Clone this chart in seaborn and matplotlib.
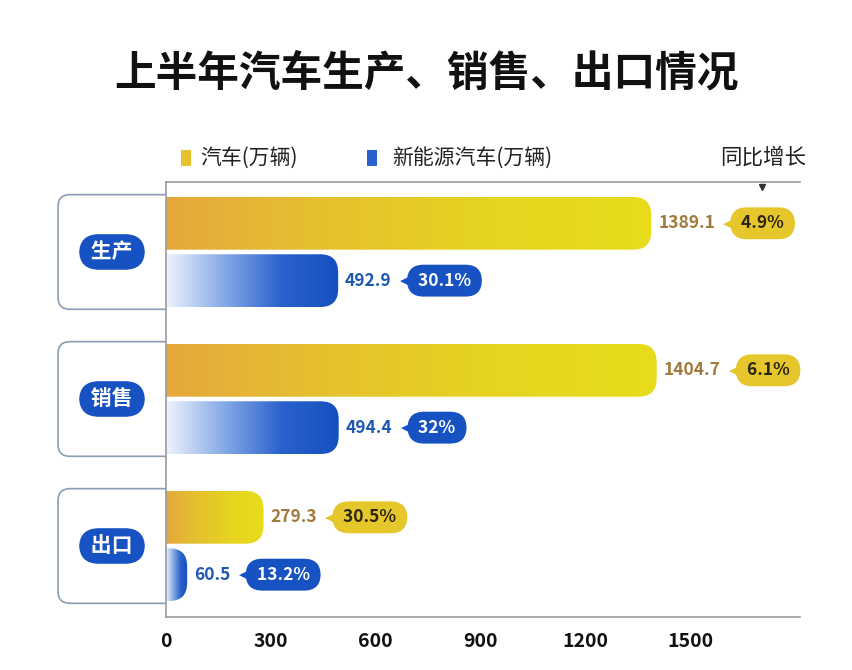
import numpy as np
import pandas as pd
import matplotlib
matplotlib.use("Agg")
import matplotlib.pyplot as plt
import seaborn as sns
from matplotlib.colors import LinearSegmentedColormap
from matplotlib.patches import FancyBboxPatch, Rectangle, PathPatch
from matplotlib.path import Path

# ----------------------------
# Data
# ----------------------------
title = "上半年汽车生产、销售、出口情况"
categories = ["生产", "销售", "出口"]
series = ["汽车(万辆)", "新能源汽车(万辆)"]
car_values = [1389.1, 1404.7, 279.3]
nev_values = [492.9, 494.4, 60.5]
car_growth = ["4.9%", "6.1%", "30.5%"]
nev_growth = ["30.1%", "32%", "13.2%"]
x_ticks = [0, 300, 600, 900, 1200, 1500]

df = pd.DataFrame({
    "类别": categories * 2,
    "数量": car_values + nev_values,
    "类型": [series[0]] * len(categories) + [series[1]] * len(categories),
})

# ----------------------------
# General Settings
# ----------------------------
sns.set_style("white")
plt.rcParams["font.family"] = ["Noto Sans CJK SC", "DejaVu Sans"]

W, H = 852, 670
fig = plt.figure(figsize=(W / 100, H / 100), dpi=100)
fig.patch.set_facecolor("white")

# overlay in pixel units for decorations
ov = fig.add_axes([0, 0, 1, 1], zorder=-1)
ov.set_xlim(0, W)
ov.set_ylim(H, 0)
ov.axis("off")

ax = fig.add_axes([166 / W, 1 - 617 / H, 634 / W, 435 / H])
ax.patch.set_alpha(0)

sns.barplot(data=df, y="类别", x="数量", hue="类型", orient="h",
            width=0.78, gap=0.08, palette=["#e6c62c", "#1a55c3"],
            legend=False, ax=ax)

XMAX = 1815
YLIM = (2.483, -0.476)
ax.set_xlim(0, XMAX)
ax.set_ylim(*YLIM)

ux = XMAX / 634
uy = (YLIM[0] - YLIM[1]) / 435

# ----------------------------
# Gradient bars with rounded right end
# ----------------------------
yellow_cmap = LinearSegmentedColormap.from_list(
    "yel", ["#e6a83c", "#e5c22e", "#e6d41f", "#e8dc1c"])
blue_cmap = LinearSegmentedColormap.from_list(
    "blu", ["#eef3fc", "#86aae6", "#2a62cc", "#1450c0"])
grad = np.linspace(0, 1, 256).reshape(1, -1)
r_px = 18

for cont, cmap in zip(ax.containers, [yellow_cmap, blue_cmap]):
    for bar in cont:
        x0, y0 = bar.get_x(), bar.get_y()
        w, h = bar.get_width(), bar.get_height()
        bar.set_visible(False)
        clip = FancyBboxPatch(
            (x0 - 2 * r_px * ux, y0), w + 2 * r_px * ux, h,
            boxstyle=f"round,pad=0,rounding_size={r_px * ux}",
            mutation_aspect=uy / ux, transform=ax.transData,
            fc="none", ec="none")
        ax.add_patch(clip)
        im = ax.imshow(grad, extent=[x0, x0 + w, y0 + h, y0], aspect="auto",
                       cmap=cmap, zorder=2, interpolation="bilinear")
        im.set_clip_path(clip)

ax.set_xlim(0, XMAX)
ax.set_ylim(*YLIM)

# ----------------------------
# Value labels + growth pills
# ----------------------------
styles = [
    (car_values, car_growth, "#a07a3c", "#e5c72c", "#2b2410"),
    (nev_values, nev_growth, "#2057b5", "#1752c2", "white"),
]
for cont, (vals, growth, vcol, pfill, ptext) in zip(ax.containers, styles):
    for bar, v, g in zip(cont, vals, growth):
        yc = bar.get_y() + bar.get_height() / 2
        lab = ax.annotate(f"{v}", xy=(bar.get_width(), yc), xytext=(5, 0),
                          textcoords="offset points", ha="left", va="center",
                          fontsize=12.5, fontweight="bold", color=vcol,
                          annotation_clip=False)
        ax.annotate("◀", xy=(1, 0.5), xycoords=lab, xytext=(6, 0),
                    textcoords="offset points", ha="left", va="center",
                    fontsize=8, color=pfill, family="DejaVu Sans")
        ax.annotate(f" {g} ", xy=(1, 0.5), xycoords=lab, xytext=(16, 0),
                    textcoords="offset points", ha="left", va="center",
                    fontsize=12.5, fontweight="bold", color=ptext,
                    bbox=dict(boxstyle="round,pad=0.4,rounding_size=0.95",
                              fc=pfill, ec="none"))

# ----------------------------
# Axes styling
# ----------------------------
for side in ["top", "left", "bottom"]:
    ax.spines[side].set_color("#9a9a9a")
    ax.spines[side].set_linewidth(1.2)
ax.spines["right"].set_visible(False)

ax.set_xticks(x_ticks)
ax.set_xticklabels([str(t) for t in x_ticks])
ax.tick_params(axis="x", direction="in", length=5, width=1, color="#9a9a9a",
               pad=11, labelsize=14, labelcolor="#111111", top=False)
for lbl in ax.get_xticklabels():
    lbl.set_fontweight("bold")
ax.set_yticks(range(len(categories)))
ax.tick_params(axis="y", direction="out", length=6, width=1, color="#9a9a9a",
               labelleft=False)
ax.set_xlabel("")
ax.set_ylabel("")


def to_px(y):
    return H - ax.transData.transform((0, y))[1]


# ----------------------------
# Category boxes and labels
# ----------------------------
half = 0.39
for i, cat in enumerate(categories):
    top, bot = to_px(i - half), to_px(i + half)
    x0, x1, r = 58, 166, 12
    verts = [(x1, top), (x0 + r, top), (x0, top), (x0, top + r),
             (x0, bot - r), (x0, bot), (x0 + r, bot), (x1, bot)]
    codes = [Path.MOVETO, Path.LINETO, Path.CURVE3, Path.CURVE3,
             Path.LINETO, Path.CURVE3, Path.CURVE3, Path.LINETO]
    ov.add_patch(PathPatch(Path(verts, codes), fc="none", ec="#8a9db2", lw=1.2))
    ov.text(112, to_px(i), f" {cat} ", ha="center", va="center",
            fontsize=15, fontweight="bold", color="white",
            bbox=dict(boxstyle="round,pad=0.35,rounding_size=0.95",
                      fc="#1752c2", ec="none"))

# ----------------------------
# Title and legend
# ----------------------------
ov.text(426, 73, title, ha="center", va="center", fontsize=30,
        fontweight="bold", color="#111111")

ov.add_patch(Rectangle((181, 150), 10, 16, fc="#e6c22c", ec="none"))
ov.text(200, 158, series[0], ha="left", va="center", fontsize=15, color="#222222")
ov.add_patch(Rectangle((367, 150), 10, 16, fc="#2a62cc", ec="none"))
ov.text(392, 158, series[1], ha="left", va="center", fontsize=15, color="#222222")
ov.text(806, 158, "同比增长", ha="right", va="center", fontsize=15.5, color="#222222")
ov.plot([762], [187], marker="v", ms=5, color="#333333")

fig.savefig("out.png", dpi=100, facecolor="white")
